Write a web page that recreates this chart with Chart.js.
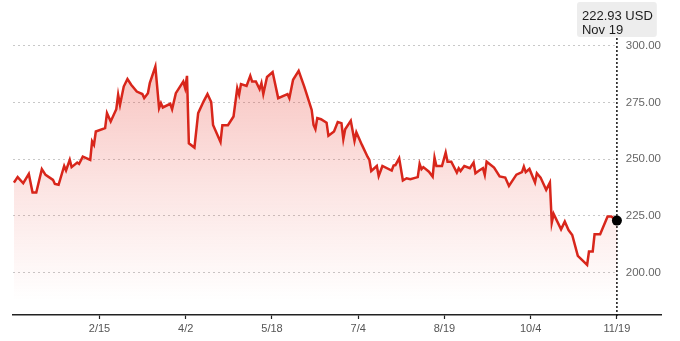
<!DOCTYPE html>
<html>
<head>
<meta charset="utf-8">
<script src="https://cdn.jsdelivr.net/npm/chart.js@4.4.1/dist/chart.umd.min.js"></script>
<style>
  body { margin: 0; background: #fff; }
  #wrap { width: 680px; height: 341px; position: relative; }
</style>
</head>
<body>
<div id="wrap"><canvas id="priceChart"></canvas></div>
<script>
const dates = [
  "2023-12-31", "2024-01-02", "2024-01-05", "2024-01-08", "2024-01-10", "2024-01-12", "2024-01-15", "2024-01-17", "2024-01-21", "2024-01-22",
  "2024-01-24", "2024-01-27", "2024-01-28", "2024-01-30", "2024-01-31", "2024-02-03", "2024-02-04", "2024-02-06", "2024-02-10", "2024-02-11",
  "2024-02-12", "2024-02-13", "2024-02-18", "2024-02-19", "2024-02-21", "2024-02-24", "2024-02-25", "2024-02-26", "2024-02-28", "2024-03-01",
  "2024-03-03", "2024-03-06", "2024-03-09", "2024-03-10", "2024-03-12", "2024-03-13", "2024-03-16", "2024-03-18", "2024-03-19", "2024-03-20",
  "2024-03-24", "2024-03-25", "2024-03-27", "2024-03-31", "2024-04-01", "2024-04-02", "2024-04-03", "2024-04-06", "2024-04-08", "2024-04-11",
  "2024-04-13", "2024-04-15", "2024-04-16", "2024-04-20", "2024-04-21", "2024-04-24", "2024-04-27", "2024-04-29", "2024-04-30", "2024-05-01",
  "2024-05-04", "2024-05-06", "2024-05-07", "2024-05-09", "2024-05-11", "2024-05-12", "2024-05-13", "2024-05-15", "2024-05-18", "2024-05-21",
  "2024-05-26", "2024-05-27", "2024-05-29", "2024-06-01", "2024-06-04", "2024-06-05", "2024-06-08", "2024-06-09", "2024-06-10", "2024-06-11",
  "2024-06-13", "2024-06-16", "2024-06-17", "2024-06-20", "2024-06-22", "2024-06-24", "2024-06-25", "2024-06-26", "2024-06-29", "2024-07-01",
  "2024-07-02", "2024-07-05", "2024-07-08", "2024-07-09", "2024-07-10", "2024-07-13", "2024-07-14", "2024-07-16", "2024-07-21", "2024-07-22",
  "2024-07-23", "2024-07-25", "2024-07-27", "2024-07-29", "2024-07-31", "2024-08-04", "2024-08-05", "2024-08-06", "2024-08-07", "2024-08-10",
  "2024-08-12", "2024-08-13", "2024-08-14", "2024-08-17", "2024-08-19", "2024-08-20", "2024-08-22", "2024-08-25", "2024-08-26", "2024-08-27",
  "2024-08-29", "2024-09-01", "2024-09-03", "2024-09-04", "2024-09-06", "2024-09-08", "2024-09-09", "2024-09-10", "2024-09-14", "2024-09-17",
  "2024-09-20", "2024-09-22", "2024-09-26", "2024-09-29", "2024-09-30", "2024-10-01", "2024-10-03", "2024-10-06", "2024-10-07", "2024-10-09",
  "2024-10-12", "2024-10-14", "2024-10-15", "2024-10-16", "2024-10-20", "2024-10-22", "2024-10-24", "2024-10-26", "2024-10-29", "2024-11-03",
  "2024-11-04", "2024-11-06", "2024-11-07", "2024-11-10", "2024-11-14", "2024-11-16", "2024-11-19"
];
const prices = [
  239.7, 242.1, 239.4, 243.5, 235.3, 235.3, 245.6, 243.1, 240.9, 239.1,
  238.7, 247.0, 245.0, 249.7, 246.5, 248.5, 247.9, 251.1, 249.7, 257.8,
  256.3, 262.2, 263.7, 270.3, 266.6, 272.0, 278.4, 273.9, 282.0, 285.3,
  282.8, 279.8, 278.7, 276.9, 279.1, 283.5, 290.8, 272.5, 274.7, 272.8,
  274.4, 272.0, 279.1, 284.2, 281.3, 286.7, 257.0, 255.1, 270.3, 275.6,
  278.7, 275.2, 265.1, 257.6, 265.0, 265.0, 268.8, 281.3, 278.4, 283.1,
  282.3, 286.7, 284.2, 284.2, 280.9, 283.5, 278.7, 286.2, 288.4, 276.9,
  278.7, 276.9, 285.0, 288.9, 282.0, 279.4, 271.7, 265.1, 263.2, 268.1,
  267.6, 266.1, 260.3, 262.2, 266.4, 265.9, 258.8, 263.2, 266.9, 258.1,
  261.9, 256.3, 251.1, 249.7, 244.8, 247.0, 242.6, 247.0, 245.0, 247.2,
  247.4, 250.4, 240.6, 241.6, 241.2, 242.1, 247.9, 245.6, 246.5, 244.5,
  242.3, 250.7, 247.0, 247.0, 252.9, 248.9, 248.9, 244.1, 246.0, 244.8,
  247.0, 246.0, 248.5, 243.8, 245.0, 246.0, 243.1, 248.9, 246.3, 242.4,
  241.9, 238.2, 243.2, 244.3, 246.7, 244.3, 245.7, 239.7, 243.8, 241.9,
  236.5, 239.7, 222.0, 225.9, 219.1, 222.5, 218.8, 216.6, 207.4, 203.4,
  209.3, 209.3, 216.9, 216.9, 224.7, 224.7, 222.93
];
const tickDates = ["2024-02-15", "2024-11-19"];   // first and last labelled date
const tickLabels = ["2/15", "4/2", "5/18", "7/4", "8/19", "10/4", "11/19"];
const yTicks = [200, 225, 250, 275, 300];
const lastDateLabel = "Nov 19";
const currency = "USD";

const dayZero = Date.UTC(2024, 0, 1);
function toDay(s) {
  const [y, m, d] = s.split("-").map(Number);
  return (Date.UTC(y, m - 1, d) - dayZero) / 86400000;
}

const points = dates.map((d, i) => ({ x: toDay(d), y: prices[i] }));
const lastIndex = points.length - 1;

// labelled ticks are evenly spaced between the first and last label date
const tickStart = toDay(tickDates[0]);
const tickStep = (toDay(tickDates[1]) - tickStart) / (tickLabels.length - 1);

const fontFamily = '"Liberation Sans", Arial, sans-serif';

// dotted marker line + value box for the last point
const markerPlugin = {
  id: "marker",
  beforeDatasetsDraw(chart) {
    const { ctx, chartArea, scales } = chart;
    const px = scales.x.getPixelForValue(points[lastIndex].x);
    ctx.save();
    ctx.strokeStyle = "#111";
    ctx.lineWidth = 1.5;
    ctx.setLineDash([2, 2]);
    ctx.beginPath();
    ctx.moveTo(px, 38);
    ctx.lineTo(px, chartArea.bottom + 2);
    ctx.stroke();
    ctx.restore();
  },
  afterDraw(chart) {
    const { ctx, scales } = chart;
    const px = scales.x.getPixelForValue(points[lastIndex].x);
    const line1 = prices[lastIndex].toFixed(2) + " " + currency;
    ctx.save();
    ctx.font = "13px " + fontFamily;
    const w = Math.max(ctx.measureText(line1).width, ctx.measureText(lastDateLabel).width) + 9;
    const left = px - w / 2;
    ctx.fillStyle = "#ededed";
    ctx.beginPath();
    ctx.roundRect(left, 2, w, 35, 3);
    ctx.fill();
    ctx.fillStyle = "#1c1c1c";
    ctx.textBaseline = "alphabetic";
    ctx.fillText(line1, left + 5, 20);
    ctx.fillText(lastDateLabel, left + 5, 34);
    ctx.restore();
  }
};

const ctx = document.getElementById("priceChart").getContext("2d");

new Chart(ctx, {
  type: "line",
  data: {
    datasets: [{
      data: points,
      borderColor: "#d8261b",
      borderWidth: 2.5,
      tension: 0,
      fill: "start",
      backgroundColor: (c) => {
        const area = c.chart.chartArea;
        if (!area) return "rgba(230,60,50,0.2)";
        const g = c.chart.ctx.createLinearGradient(0, area.top, 0, area.bottom);
        g.addColorStop(0, "rgba(232,60,48,0.36)");
        g.addColorStop(0.55, "rgba(232,60,48,0.14)");
        g.addColorStop(0.95, "rgba(232,60,48,0)");
        return g;
      },
      pointRadius: (c) => (c.dataIndex === lastIndex ? 5 : 0),
      pointBackgroundColor: "#000",
      pointBorderColor: "#000",
      pointBorderWidth: 0,
      pointHoverRadius: 0
    }]
  },
  options: {
    responsive: true,
    maintainAspectRatio: false,
    animation: false,
    layout: { padding: { left: 13, right: 19, top: 23, bottom: 0 } },
    plugins: { legend: { display: false }, tooltip: { enabled: false } },
    scales: {
      x: {
        type: "linear",
        min: -1.5,
        max: 346.7,
        afterBuildTicks(scale) {
          scale.ticks = tickLabels.map((l, i) => ({ value: tickStart + i * tickStep }));
        },
        afterFit(scale) { scale.height = 26; },
        ticks: {
          autoSkip: false,
          maxRotation: 0,
          padding: 3,
          color: "#555",
          font: { family: fontFamily, size: 11 },
          callback: (v, i) => tickLabels[i]
        },
        grid: { drawOnChartArea: false, tickLength: 4, tickColor: "#222", tickWidth: 1.2 },
        border: { color: "#222", width: 1.5 }
      },
      y: {
        position: "right",
        min: 181.35,
        max: 310,
        afterBuildTicks(scale) {
          scale.ticks = yTicks.map((v) => ({ value: v }));
        },
        ticks: {
          mirror: true,
          padding: 0,
          color: "#666",
          font: { family: fontFamily, size: 11.5 },
          callback: (v) => Number(v).toFixed(2),
          showLabelBackdrop: true,
          backdropColor: "#fff",
          backdropPadding: { left: 11, right: 1, top: 3, bottom: 3 }
        },
        grid: { color: "#c8c8c8", lineWidth: 1, drawTicks: false },
        border: { display: false, dash: [2, 3] }
      }
    }
  },
  plugins: [markerPlugin]
});
</script>
</body>
</html>
